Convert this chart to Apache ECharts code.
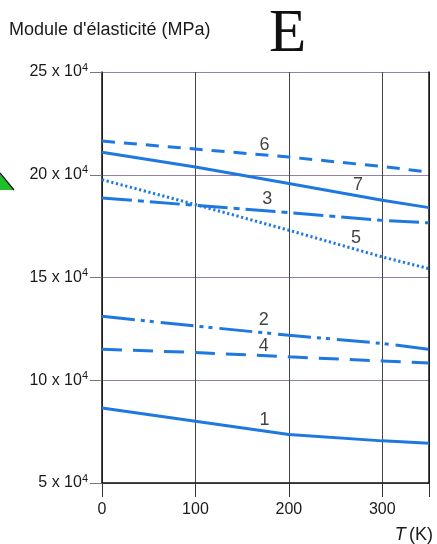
<!DOCTYPE html>
<html><head><meta charset="utf-8">
<script src="https://cdn.jsdelivr.net/npm/echarts@6/dist/echarts.min.js"></script>
<style>html,body{margin:0;padding:0;background:#fff}#c{width:437px;height:544px}</style>
</head><body><div id="c"></div>
<script>
// Temperature (K)
const temps = [0, 100, 200, 300, 350];
// Module d'élasticité, in units of 10^4 MPa
const curve1 = [8.65, 8.0, 7.36, 7.05, 6.94];
const curve2 = [13.11, 12.64, 12.19, 11.79, 11.51];
const curve3 = [18.87, 18.51, 18.16, 17.78, 17.66];
const curve4 = [11.51, 11.35, 11.14, 10.94, 10.84];
const curve5 = [19.76, 18.55, 17.3, 16.0, 15.43];
const curve6 = [21.64, 21.25, 20.86, 20.4, 20.13];
const curve7 = [21.1, 20.38, 19.57, 18.76, 18.4];
// curve label positions [T, E, text]
const curveLabels = [
  [174, 21.45, '6'], [274, 19.5, '7'], [177, 18.8, '3'], [272, 16.9, '5'],
  [173, 12.95, '2'], [173, 11.65, '4'], [174, 8.05, '1']
];
const yTicks = [5, 10, 15, 20, 25];
const xTickLabels = [0, 100, 200, 300];

const BLUE = '#1f78e0';
const FONT = 'Liberation Sans, Arial, sans-serif';
const pair = arr => temps.map((t, i) => [t, arr[i]]);
function lineSeries(arr, dash) {
  return {
    type: 'line', data: pair(arr), symbol: 'none', silent: true,
    lineStyle: { color: BLUE, width: 3, type: dash || 'solid', cap: 'butt' },
    z: 3
  };
}
const chart = echarts.init(document.getElementById('c'), null, { renderer: 'canvas' });
chart.setOption({
  animation: false,
  backgroundColor: '#fff',
  grid: { left: 102, right: 8, top: 72, bottom: 61, containLabel: false },
  xAxis: {
    type: 'value', min: 0, max: 350, interval: 100,
    axisLine: { show: true, onZero: false, lineStyle: { color: '#111', width: 1.5 } },
    axisTick: { show: true, inside: false, length: 14, lineStyle: { color: '#333' }, customValues: [0, 100, 200, 300, 350] },
    axisLabel: { color: '#1a1a1a', fontSize: 16, fontFamily: FONT, margin: 19, customValues: xTickLabels },
    splitLine: { show: true, lineStyle: { color: '#444', width: 1 } }
  },
  yAxis: [{
    type: 'value', min: 5, max: 25, interval: 5,
    axisLine: { show: true, lineStyle: { color: '#111', width: 1.5 } },
    axisTick: { show: true, length: 12, lineStyle: { color: '#777' } },
    axisLabel: {
      margin: 14, fontFamily: FONT,
      formatter: v => '{n|' + v + ' x 10}{s|4}',
      rich: {
        n: { fontSize: 16, color: '#1a1a1a', fontFamily: FONT },
        s: { fontSize: 11, color: '#1a1a1a', fontFamily: FONT, verticalAlign: 'top', padding: [0, 0, 9, 0] }
      }
    },
    splitLine: { show: true, lineStyle: { color: '#9580a8', width: 1.2 } }
  }, {
    type: 'value', min: 5, max: 25, interval: 5, position: 'right',
    axisLine: { show: true, lineStyle: { color: '#111', width: 1.5 } },
    axisTick: { show: false }, axisLabel: { show: false }, splitLine: { show: false }
  }],
  series: [
    lineSeries(curve1, 'solid'),
    lineSeries(curve2, [33, 6, 4, 5, 4, 7]),
    lineSeries(curve3, [30, 6, 6, 6]),
    lineSeries(curve4, [20, 11]),
    lineSeries(curve5, [2.2, 2.6]),
    lineSeries(curve6, [13, 9]),
    lineSeries(curve7, 'solid'),
    {
      type: 'scatter', symbolSize: 0, silent: true, z: 5,
      data: curveLabels.map(d => ({ value: [d[0], d[1]], name: d[2] })),
      label: { show: true, position: 'inside', formatter: p => p.name, color: '#111', fontSize: 18, fontFamily: FONT }
    }
  ],
  graphic: [
    { type: 'text', left: 9, top: 21, style: { text: "Module d'élasticité (MPa)", font: '18px ' + FONT, fill: '#1a1a1a' } },
    { type: 'text', left: 269, top: 4, style: { text: 'E', font: '61px Liberation Serif, Times New Roman, serif', fill: '#111' } },
    { type: 'text', right: 4, top: 526, style: { text: '{i|T} {n|(K)}', rich: { i: { fontStyle: 'italic', fontSize: 18, fontFamily: FONT, fill: '#1a1a1a' }, n: { fontSize: 18, fontFamily: FONT, fill: '#1a1a1a' } } } },
    { type: 'polygon', shape: { points: [[0, 174], [14, 190], [0, 190]] }, style: { fill: '#1fbf2a' } },
    { type: 'polyline', shape: { points: [[0, 173], [14, 190]] }, style: { stroke: '#111', lineWidth: 1.2 } }
  ]
});
</script></body></html>
